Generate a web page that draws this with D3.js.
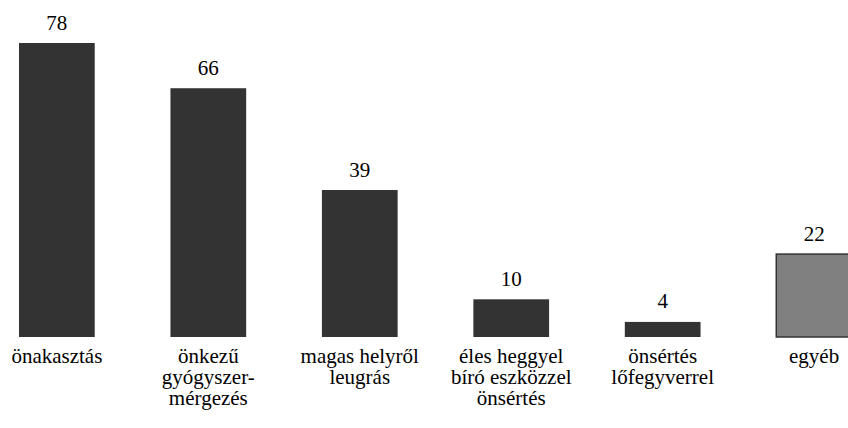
<!DOCTYPE html>
<html>
<head>
<meta charset="utf-8">
<script src="https://cdn.jsdelivr.net/npm/d3@7"></script>
<style>
  html, body { margin: 0; padding: 0; background: #fff; }
  svg text { font-family: 'Liberation Serif', 'Times New Roman', Times, serif !important; }
</style>
</head>
<body>
<svg id="chart" width="848" height="428"></svg>
<script>
// category labels, split into lines as in the original
const categories = [
  ["önakasztás"],
  ["önkezű", "gyógyszer-", "mérgezés"],
  ["magas helyről", "leugrás"],
  ["éles heggyel", "bíró eszközzel", "önsértés"],
  ["önsértés", "lőfegyverrel"],
  ["egyéb"]
];
const values = [78, 66, 39, 10, 4, 22];
const highlight = [false, false, false, false, false, true];

const svg = d3.select('#chart');
const keys = categories.map((c, i) => i);
const FONT = "'Liberation Serif', 'Times New Roman', Times, serif";

const x = d3.scaleBand()
    .domain(keys)
    .range([19, 852])
    .paddingInner(0.5)
    .paddingOuter(0);

const y = d3.scaleLinear()
    .domain([0, 78])
    .range([337, 43]);

// bars
svg.selectAll(null)
    .data(values)
    .enter().append('rect')
    .attr('x', (d, i) => x(i))
    .attr('y', d => y(d))
    .attr('width', x.bandwidth())
    .attr('height', d => y(0) - y(d))
    .attr('fill', (d, i) => highlight[i] ? '#808080' : '#333333')
    .attr('stroke', (d, i) => highlight[i] ? '#333333' : 'none')
    .attr('stroke-width', 1.5);

// value labels
svg.selectAll(null)
    .data(values)
    .enter().append('text')
    .attr('x', (d, i) => x(i) + x.bandwidth() / 2)
    .attr('y', d => y(d) - 13.5)
    .attr('text-anchor', 'middle')
    .style('font-family', FONT, 'important')
    .style('font-size', '21px')
    .text(d => d);

// category labels, one text per line
categories.forEach((lines, i) => {
    svg.selectAll(null)
        .data(lines)
        .enter().append('text')
        .attr('x', x(i) + x.bandwidth() / 2)
        .attr('y', (d, j) => 362.5 + j * 21)
        .attr('text-anchor', 'middle')
        .style('font-family', FONT, 'important')
        .style('font-size', '21px')
        .text(d => d);
});
</script>
</body>
</html>
